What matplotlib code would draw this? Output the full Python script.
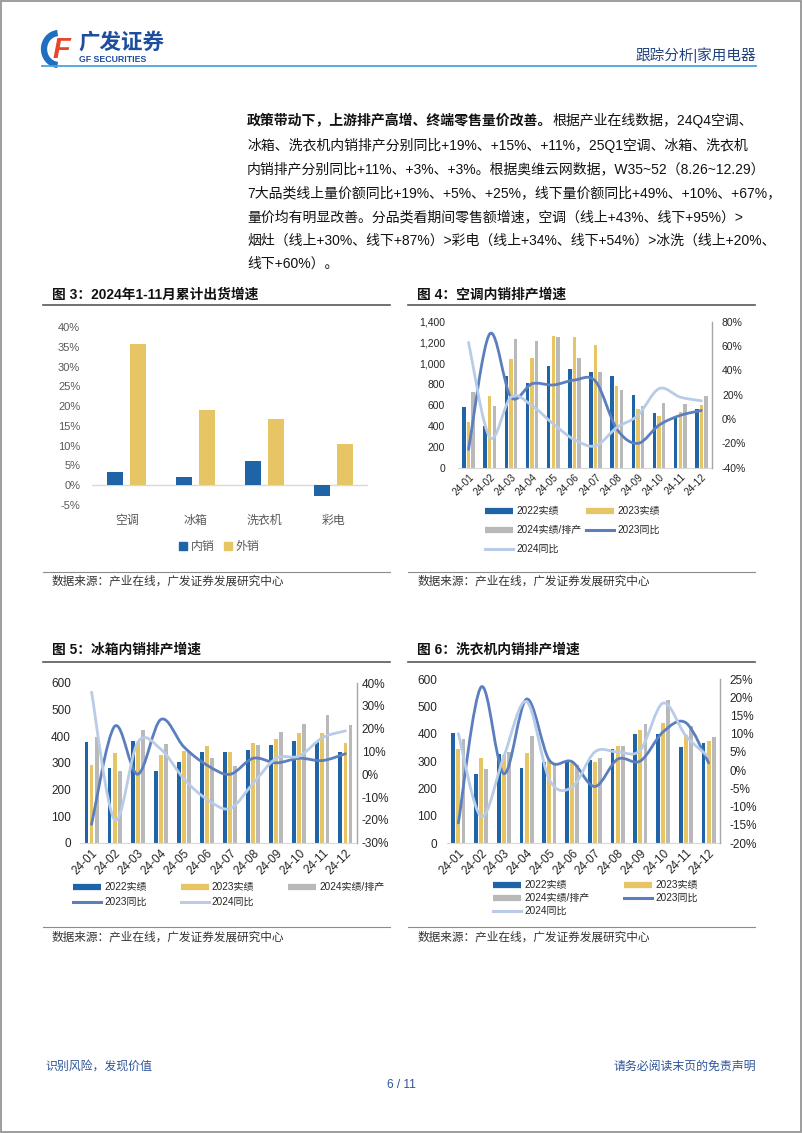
import numpy as np
import matplotlib
matplotlib.use('Agg')
import matplotlib.pyplot as plt
from matplotlib.path import Path
from matplotlib.patches import PathPatch, Rectangle, Arc
from matplotlib.lines import Line2D
from matplotlib.ticker import FuncFormatter
import matplotlib.transforms as mtransforms

plt.rcParams['font.family'] = ['Liberation Sans', 'Noto Sans CJK SC']

W, H = 802, 1133

# ---- data ----
ship_cats = ['空调', '冰箱', '洗衣机', '彩电']
ship_dom = [3.4, 2.1, 6.0, -2.8]       # 内销 %
ship_exp = [35.8, 18.9, 16.8, 10.3]    # 外销 %

months = ['24-01', '24-02', '24-03', '24-04', '24-05', '24-06',
          '24-07', '24-08', '24-09', '24-10', '24-11', '24-12']

# 空调内销排产 (万台) and yoy (%)
ac_2022 = [580, 402, 875, 811, 975, 949, 917, 879, 701, 521, 483, 563]
ac_2023 = [441, 692, 1046, 1056, 1262, 1255, 1175, 788, 560, 492, 530, 602]
ac_2024 = [724, 595, 1233, 1213, 1249, 1052, 918, 747, 595, 621, 611, 692]
ac_yoy23 = [-25, 70, 18, 29, 28, 32, 31, -8, -20, -5, 3, 7]
ac_yoy24 = [63, -15, 18, 11, -4, -17, -22, -7, 3, 25, 18, 15]

# 冰箱内销排产
fr_2022 = [377, 279, 381, 268, 304, 342, 340, 348, 367, 382, 377, 341]
fr_2023 = [292, 338, 380, 331, 345, 362, 340, 375, 389, 411, 411, 373]
fr_2024 = [397, 269, 425, 369, 341, 318, 288, 366, 416, 447, 479, 442]
fr_yoy23 = [-22, 21, 0, 24, 12, 4, 0, 7, 5, 7, 6, 9]
fr_yoy24 = [36, -20, 14, 11, -2, -11, -15, -4, 7, 8, 16, 19]

# 洗衣机内销排产
wa_2022 = [402, 254, 327, 276, 295, 298, 305, 345, 400, 400, 352, 366]
wa_2023 = [345, 311, 323, 330, 305, 293, 295, 354, 412, 440, 396, 373]
wa_2024 = [379, 272, 334, 393, 287, 287, 310, 356, 437, 522, 429, 389]
wa_yoy23 = [-14.5, 22.8, -1, 19.5, 2.7, 2.3, -4.5, 3, 2.5, 10.5, 13, 2]
wa_yoy24 = [10, -12.7, 3.8, 18.8, -2.6, -4.7, 5, 5, 5.5, 18.4, 9.4, 3.7]

series_names = ['2022实绩', '2023实绩', '2024实绩/排产', '2023同比', '2024同比']

para_bold = '政策带动下，上游排产高增、终端零售量价改善。'
para_lines = [
    '根据产业在线数据，24Q4空调、',
    '冰箱、洗衣机内销排产分别同比+19%、+15%、+11%，25Q1空调、冰箱、洗衣机',
    '内销排产分别同比+11%、+3%、+3%。根据奥维云网数据，W35~52（8.26~12.29）',
    '7大品类线上量价额同比+19%、+5%、+25%，线下量价额同比+49%、+10%、+67%，',
    '量价均有明显改善。分品类看期间零售额增速，空调（线上+43%、线下+95%）>',
    '烟灶（线上+30%、线下+87%）>彩电（线上+34%、线下+54%）>冰洗（线上+20%、',
    '线下+60%）。',
]

BLUE = '#1F64A6'
YELLOW = '#E8C564'
GREY = '#B9B9B9'
L23 = '#5B7FBE'
L24 = '#B8CBE7'
TXT = '#262626'
NAVY = '#22427E'


def rect(x0, y0, x1, y1):
    return [x0 / W, 1 - y1 / H, (x1 - x0) / W, (y1 - y0) / H]


def smooth_line(ax, x, y, color, lw):
    # Excel-like smoothed line drawn as cubic Bezier segments through the points
    x = np.asarray(x, float)
    y = np.asarray(y, float)
    n = len(x)
    verts = [(x[0], y[0])]
    codes = [Path.MOVETO]
    for i in range(n - 1):
        a = max(i - 1, 0)
        b = min(i + 2, n - 1)
        verts.append((x[i] + (x[i + 1] - x[a]) / 6, y[i] + (y[i + 1] - y[a]) / 6))
        verts.append((x[i + 1] - (x[b] - x[i]) / 6, y[i + 1] - (y[b] - y[i]) / 6))
        verts.append((x[i + 1], y[i + 1]))
        codes += [Path.CURVE4] * 3
    ax.add_patch(PathPatch(Path(verts, codes), fill=False, edgecolor=color,
                           lw=lw, capstyle='round', joinstyle='round', zorder=3))


fig = plt.figure(figsize=(W / 100, H / 100), dpi=100)
pg = fig.add_axes([0, 0, 1, 1])
pg.set_xlim(0, W)
pg.set_ylim(H, 0)
pg.axis('off')
pg.patch.set_alpha(0)

# page frame
pg.add_patch(Rectangle((0.6, 0.6), W - 1.2, H - 1.2, fill=False, ec='#8c8c8c', lw=1.2))

# header
pg.plot([42, 756], [65.5, 65.5], color='#4BA3DA', lw=1.3)
pg.text(756, 55, '跟踪分析|家用电器', ha='right', va='center', fontsize=10.5, color=NAVY)
pg.add_patch(Arc((59, 49), 30, 32, theta1=95, theta2=265, lw=4.5, color='#1E6FC0'))
pg.text(61, 50, 'F', fontsize=21, weight='bold', style='italic', color='#E8452C',
        ha='center', va='center')
pg.text(78, 43, '广发证券', fontsize=15.5, weight='bold', color='#1D4E9E', va='center')
pg.text(79, 60, 'GF SECURITIES', fontsize=6.3, weight='bold', color='#1D4E9E', va='center')

# paragraph
para_y = [121, 145, 169, 193, 217, 241, 264]
t1 = pg.text(247, para_y[0], para_bold, fontsize=10, weight='bold', va='center', color='#111111')
pg.annotate(para_lines[0], xy=(1, 0), xycoords=t1, va='bottom', ha='left',
            fontsize=10, color='#111111')
for yy, s in zip(para_y[1:], para_lines[1:]):
    pg.text(247, yy, s, fontsize=10, va='center', color='#111111')


def panel_frame(x0, x1, y_title, y_rule, y_srule, y_src, title):
    pg.text(x0 + 9, y_title, title, fontsize=9.9, weight='bold', va='center', color='#111111')
    pg.plot([x0, x1], [y_rule, y_rule], color='#595959', lw=1.2)
    pg.plot([x0, x1], [y_srule, y_srule], color='#8c8c8c', lw=0.8)
    pg.text(x0 + 9, y_src, '数据来源：产业在线，广发证券发展研究中心', fontsize=8.4,
            va='center', color='#333333')


panel_frame(43, 390, 295, 305, 572, 582, '图 3：2024年1-11月累计出货增速')
panel_frame(408, 755, 295, 305, 572, 582, '图 4：空调内销排产增速')
panel_frame(43, 390, 650, 662, 927, 938, '图 5：冰箱内销排产增速')
panel_frame(408, 755, 650, 662, 927, 938, '图 6：洗衣机内销排产增速')

# footer
pg.text(45, 1067, '识别风险，发现价值', fontsize=8.6, color='#2E5597', va='center')
pg.text(756, 1067, '请务必阅读末页的免责声明', fontsize=8.6, color='#2E5597', va='center', ha='right')
pg.text(401, 1085, '6 / 11', fontsize=8.6, color='#2E5597', va='center', ha='center')

# ---- figure 3: grouped bars ----
ax3 = fig.add_axes(rect(92, 327, 368, 505))
ax3.patch.set_alpha(0)
xc = np.arange(len(ship_cats))
ax3.bar(xc - 0.165, ship_dom, 0.23, color=BLUE, zorder=2)
ax3.bar(xc + 0.165, ship_exp, 0.23, color=YELLOW, zorder=2)
ax3.axhline(0, color='#D9D9D9', lw=1, zorder=1)
ax3.set_xlim(-0.5, 3.5)
ax3.set_ylim(-5, 40)
ax3.set_yticks(np.arange(-5, 41, 5))
ax3.yaxis.set_major_formatter(FuncFormatter(lambda v, p: f'{v:.0f}%'))
ax3.set_xticks(xc)
ax3.set_xticklabels(ship_cats, fontsize=8.6, color='#595959')
ax3.tick_params(axis='y', length=0, labelsize=8, labelcolor='#595959', pad=8.5)
ax3.tick_params(axis='x', length=0, pad=7)
for s in ax3.spines.values():
    s.set_visible(False)
fig.legend([Rectangle((0, 0), 1, 1, color=BLUE), Rectangle((0, 0), 1, 1, color=YELLOW)],
           ['内销', '外销'], ncol=2, loc='center', bbox_to_anchor=(219 / W, 1 - 547 / H),
           frameon=False, fontsize=8.6, handlelength=0.7, handleheight=0.7,
           handletextpad=0.3, columnspacing=0.8, labelcolor='#595959')


def combo(box, s22, s23, s24, y23, y24, lmax, lstep, rlim, rstep, tfs, xfs,
          lpad, rpad, xdx, lfmt):
    ax = fig.add_axes(rect(*box))
    ax.patch.set_alpha(0)
    x = np.arange(len(months))
    ax.bar(x - 0.22, s22, 0.165, color=BLUE, zorder=2)
    ax.bar(x, s23, 0.165, color=YELLOW, zorder=2)
    ax.bar(x + 0.22, s24, 0.165, color=GREY, zorder=2)
    ax.set_xlim(-0.5, len(months) - 0.5)
    ax.set_ylim(0, lmax)
    ax.set_yticks(np.arange(0, lmax + 1, lstep))
    ax.yaxis.set_major_formatter(FuncFormatter(lfmt))
    ax.set_xticks(x)
    ax.set_xticklabels(months, rotation=45, ha='right', va='top',
                       rotation_mode='anchor', fontsize=xfs, color=TXT)
    off = mtransforms.ScaledTranslation(xdx / 72, 0, fig.dpi_scale_trans)
    for lab in ax.get_xticklabels():
        lab.set_transform(lab.get_transform() + off)
    ax.tick_params(axis='y', length=0, labelsize=tfs, labelcolor=TXT, pad=lpad)
    ax.tick_params(axis='x', length=0, pad=3)
    for k in ['top', 'left', 'right']:
        ax.spines[k].set_visible(False)
    ax.spines['bottom'].set_color('#D9D9D9')

    ax2 = ax.twinx()
    ax2.patch.set_alpha(0)
    smooth_line(ax2, x, y23, L23, 2.0)
    smooth_line(ax2, x, y24, L24, 2.0)
    ax2.set_ylim(*rlim)
    ax2.set_yticks(np.arange(rlim[0], rlim[1] + 0.1, rstep))
    ax2.yaxis.set_major_formatter(FuncFormatter(lambda v, p: f'{v:.0f}%'))
    ax2.tick_params(axis='y', length=0, labelsize=tfs, labelcolor=TXT, pad=rpad)
    for k in ['top', 'left', 'bottom']:
        ax2.spines[k].set_visible(False)
    ax2.spines['right'].set_color('#A6A6A6')
    ax2.spines['right'].set_linewidth(1)
    return ax, ax2


bar_h = [Line2D([], [], color=c, lw=4.5, solid_capstyle='butt') for c in (BLUE, YELLOW, GREY)]
line_h = [Line2D([], [], color=c, lw=2.2) for c in (L23, L24)]
all_h = bar_h + line_h


def legend_at(order, ncol, x, y, colsp, lsp):
    fig.legend([all_h[i] for i in order], [series_names[i] for i in order], ncol=ncol,
               loc='upper left', bbox_to_anchor=(x / W, 1 - y / H), frameon=False,
               fontsize=7.2, handlelength=2.8, handletextpad=0.3, columnspacing=colsp,
               labelspacing=lsp, borderpad=0, borderaxespad=0, labelcolor=TXT)


combo((458, 321.7, 712, 467.7), ac_2022, ac_2023, ac_2024, ac_yoy23, ac_yoy24,
      1400, 200, (-40, 80), 20, 7.5, 7.2, 9.4, 7.2, 3, lambda v, p: f'{v:,.0f}')
legend_at([0, 2, 4, 1, 3], 2, 485, 506, 0.5, 0.9)

combo((80, 683, 357, 842.7), fr_2022, fr_2023, fr_2024, fr_yoy23, fr_yoy24,
      600, 100, (-30, 40), 10, 8.5, 8.5, 6.5, 3.4, 6, lambda v, p: f'{v:.0f}')
legend_at([0, 3, 1, 4, 2], 3, 73, 882, 3.4, 0.5)

combo((447, 679, 720, 843), wa_2022, wa_2023, wa_2024, wa_yoy23, wa_yoy24,
      600, 100, (-20, 25), 5, 8.5, 8.5, 7, 7, 6, lambda v, p: f'{v:.0f}')
legend_at([0, 2, 4, 1, 3], 2, 493, 880, 3.5, 0.3)

fig.savefig('out.png', dpi=100)
